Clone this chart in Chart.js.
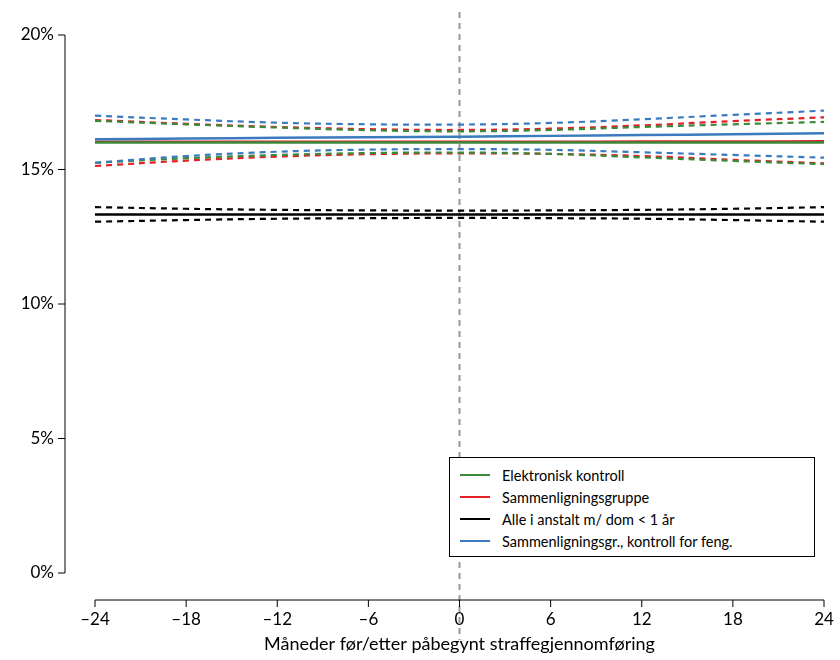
<!DOCTYPE html>
<html><head><meta charset="utf-8">
<script src="https://cdn.jsdelivr.net/npm/chart.js@4/dist/chart.umd.min.js"></script>
<style>
body{margin:0;background:#fff;font-family:Lato,"Open Sans",sans-serif}
#wrap{position:relative;width:840px;height:660px}
#legend{position:absolute;left:449px;top:457px;width:366px;border:1px solid #000;background:#fff;padding:6px 0 4px 10px;box-sizing:border-box;font-size:14.5px}
#legend div{display:flex;align-items:center;height:22px}
#legend span{display:inline-block;width:30px;height:2px;margin-right:12px}
</style></head><body>
<div id="wrap"><canvas id="c" width="840" height="660"></canvas>
<div id="legend"></div></div>
<script>
// måneder
const months = [-24, -18, -12, -6, 0, 6, 12, 18, 24];
const xTicks = [-24, -18, -12, -6, 0, 6, 12, 18, 24];
const yTicks = [0, 5, 10, 15, 20];

const elSolid = [16.0, 16.0, 16.0, 16.0, 16.0, 16.0, 16.0, 16.0, 16.0];
const elUpper = [16.81, 16.68, 16.56, 16.46, 16.42, 16.47, 16.58, 16.68, 16.77];
const elLower = [15.25, 15.42, 15.54, 15.61, 15.63, 15.58, 15.45, 15.32, 15.2];

const smSolid = [16.03, 16.03, 16.03, 16.03, 16.03, 16.03, 16.04, 16.04, 16.05];
const smUpper = [16.84, 16.7, 16.58, 16.5, 16.47, 16.52, 16.64, 16.8, 16.94];
const smLower = [15.13, 15.33, 15.48, 15.57, 15.6, 15.58, 15.5, 15.36, 15.23];

const alSolid = [13.33, 13.33, 13.33, 13.33, 13.33, 13.33, 13.33, 13.33, 13.33];
const alUpper = [13.6, 13.54, 13.5, 13.48, 13.47, 13.48, 13.5, 13.54, 13.6];
const alLower = [13.06, 13.12, 13.17, 13.19, 13.2, 13.19, 13.17, 13.12, 13.06];

const bcSolid = [16.12, 16.15, 16.18, 16.2, 16.22, 16.25, 16.28, 16.31, 16.35];
const bcUpper = [17.0, 16.86, 16.74, 16.68, 16.67, 16.73, 16.87, 17.03, 17.19];
const bcLower = [15.25, 15.5, 15.66, 15.74, 15.76, 15.73, 15.64, 15.54, 15.44];

const green = '#3a8a3a', red = '#e41f26', black = '#000', blue = '#3a7bbf';
const names = ['Elektronisk kontroll', 'Sammenligningsgruppe', 'Alle i anstalt m/ dom < 1 år', 'Sammenligningsgr., kontroll for feng.'];

function ds(vals, color, dashed) {
  return {
    data: months.map((m, i) => ({x: m, y: vals[i]})),
    borderColor: color, borderWidth: dashed ? 2.2 : 2.5,
    borderDash: dashed ? [6, 5] : [], pointRadius: 0, tension: 0.4, fill: false
  };
}

const axesPlugin = {
  id: 'axes',
  afterDraw(chart) {
    const c = chart.ctx, x = chart.scales.x, y = chart.scales.y;
    c.save();
    c.strokeStyle = '#000'; c.lineWidth = 1; c.fillStyle = '#000';
    c.font = '17px Lato, "Open Sans", sans-serif';
    // y-akse
    const ax = 65;
    c.beginPath(); c.moveTo(ax, y.getPixelForValue(0)); c.lineTo(ax, y.getPixelForValue(20)); c.stroke();
    c.textAlign = 'right'; c.textBaseline = 'middle';
    yTicks.forEach(t => {
      const p = y.getPixelForValue(t);
      c.beginPath(); c.moveTo(ax - 7, p); c.lineTo(ax, p); c.stroke();
      c.fillText(t + '%', ax - 11, p);
    });
    // x-akse
    const ay = 600;
    c.beginPath(); c.moveTo(x.getPixelForValue(-24), ay); c.lineTo(x.getPixelForValue(24), ay); c.stroke();
    c.textAlign = 'center'; c.textBaseline = 'top';
    xTicks.forEach(t => {
      const p = x.getPixelForValue(t);
      c.beginPath(); c.moveTo(p, ay); c.lineTo(p, ay + 7); c.stroke();
      c.fillText(t < 0 ? '\u2013' + Math.abs(t) : String(t), p, ay + 11);
    });
    c.font = '18px Lato, "Open Sans", sans-serif';
    c.fillText('Måneder før/etter påbegynt straffegjennomføring', x.getPixelForValue(0), 635);
    c.restore();
  },
  beforeDatasetsDraw(chart) {
    const c = chart.ctx, p = chart.scales.x.getPixelForValue(0);
    c.save();
    c.strokeStyle = '#999'; c.lineWidth = 2; c.setLineDash([6, 5]);
    c.beginPath(); c.moveTo(p, 12); c.lineTo(p, 640); c.stroke();
    c.restore();
  }
};

// første datasett tegnes øverst
new Chart(document.getElementById('c'), {
  type: 'line',
  data: {
    datasets: [
      ds(bcSolid, blue, false), ds(alSolid, black, false),
      ds(elSolid, green, false), ds(smSolid, red, false),
      ds(bcUpper, blue, true), ds(bcLower, blue, true),
      ds(alUpper, black, true), ds(alLower, black, true),
      ds(elUpper, green, true), ds(elLower, green, true),
      ds(smUpper, red, true), ds(smLower, red, true)
    ]
  },
  options: {
    responsive: false, animation: false,
    layout: {padding: {left: 95, right: 16, top: 35, bottom: 87}},
    plugins: {legend: {display: false}, tooltip: {enabled: false}},
    scales: {
      x: {type: 'linear', min: -24, max: 24, display: false},
      y: {min: 0, max: 20, display: false}
    }
  },
  plugins: [axesPlugin]
});

const leg = document.getElementById('legend');
[green, red, black, blue].forEach((col, i) => {
  leg.innerHTML += '<div><span style="background:' + col + '"></span>' + names[i] + '</div>';
});
</script>
</body></html>
